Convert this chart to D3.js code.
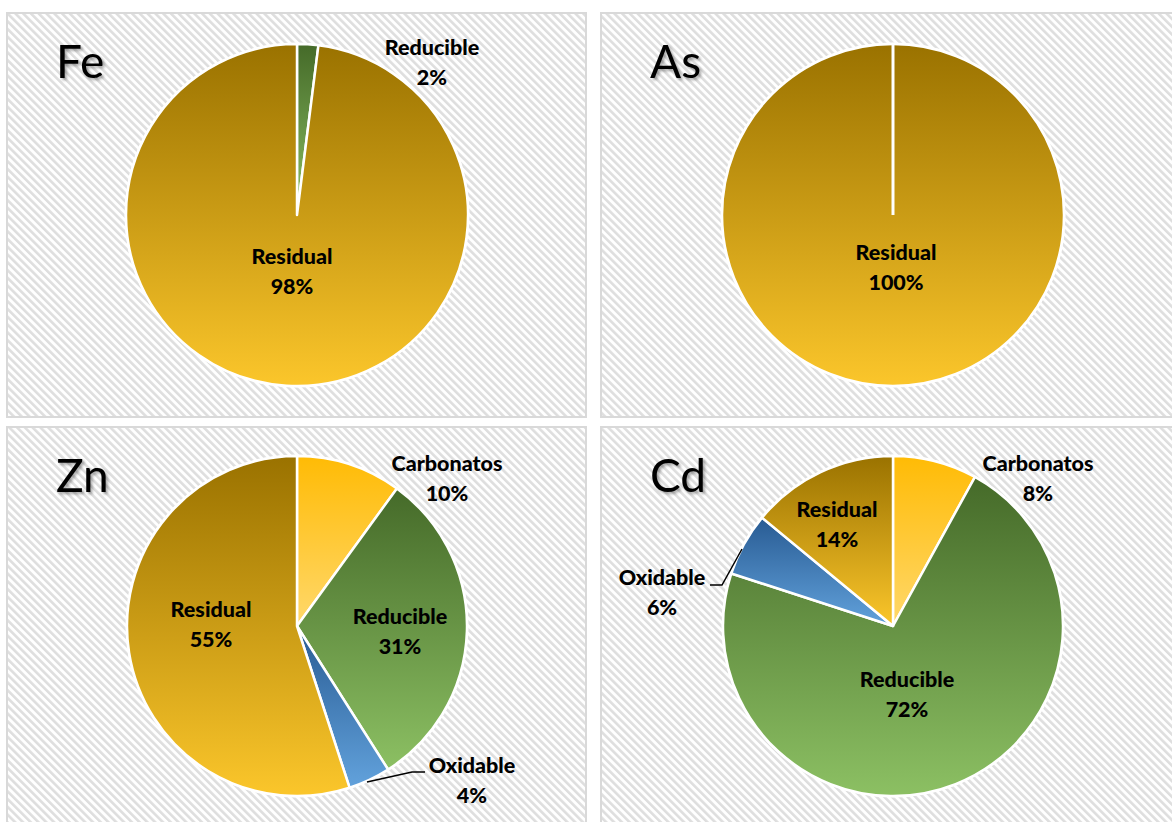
<!DOCTYPE html>
<html>
<head>
<meta charset="utf-8">
<script src="https://cdn.jsdelivr.net/npm/d3@7"></script>
<style>
  html, body { margin: 0; padding: 0; background: #ffffff; }
  svg { display: block; }
</style>
</head>
<body>
<svg id="chart" width="1172" height="822"></svg>
<script>
// Fractions in the order they are drawn (clockwise from 12 o'clock)
const fractions = ["Carbonatos", "Reducible", "Oxidable", "Residual"];
const elements = ["Fe", "As", "Zn", "Cd"];

// Percentage of each fraction per element
const feValues = [0, 2, 0, 98];
const asValues = [0, 0, 0, 100];
const znValues = [10, 31, 4, 55];
const cdValues = [8, 72, 6, 14];
const seriesValues = [feValues, asValues, znValues, cdValues];

// Colours per fraction: dark (top) to light (bottom)
const fillTop = ["#ffbb05", "#456a29", "#285b93", "#9a7200"];
const fillBottom = ["#ffd86b", "#8cc063", "#62a2dc", "#fbc62b"];

const svg = d3.select("#chart");
const defs = svg.append("defs");

// Light diagonal hatch for panel backgrounds
const pat = defs.append("pattern")
  .attr("id", "hatch").attr("patternUnits", "userSpaceOnUse")
  .attr("width", 5.5).attr("height", 5.5)
  .attr("patternTransform", "rotate(-45)");
pat.append("rect").attr("width", 5.5).attr("height", 5.5).attr("fill", "#ffffff");
pat.append("rect").attr("width", 2.6).attr("height", 5.5).attr("fill", "#dedede");

fractions.forEach((f, i) => {
  const g = defs.append("linearGradient").attr("id", "grad" + i)
    .attr("x1", 0).attr("y1", 0).attr("x2", 0).attr("y2", 1);
  g.append("stop").attr("offset", "0%").attr("stop-color", fillTop[i]);
  g.append("stop").attr("offset", "100%").attr("stop-color", fillBottom[i]);
});

const shadow = defs.append("filter").attr("id", "tshadow")
  .attr("x", "-20%").attr("y", "-20%").attr("width", "150%").attr("height", "150%");
shadow.append("feDropShadow").attr("dx", 2).attr("dy", 2)
  .attr("stdDeviation", 1.5).attr("flood-color", "#000").attr("flood-opacity", 0.35);

// Panel frames
const panels = [
  { x: 7, y: 13, w: 579, h: 404, cx: 297, cy: 215, r: 171 },
  { x: 601, y: 13, w: 580, h: 404, cx: 893, cy: 215, r: 171 },
  { x: 7, y: 427, w: 579, h: 404, cx: 297, cy: 626, r: 170 },
  { x: 601, y: 427, w: 580, h: 404, cx: 893, cy: 626, r: 170 }
];

// Data label positions: [fraction index, dx, dy from pie centre], plus optional leader line
const labelSpec = [
  [{ i: 1, x: 135, y: -160 }, { i: 3, x: -5, y: 49 }],
  [{ i: 3, x: 3, y: 45 }],
  [{ i: 0, x: 150, y: -155 }, { i: 1, x: 103, y: -2 }, { i: 3, x: -86, y: -9 },
   { i: 2, x: 175, y: 147, leader: [[70, 156], [115, 146], [128, 146]] }],
  [{ i: 0, x: 145, y: -155 }, { i: 1, x: 14, y: 61 }, { i: 3, x: -56, y: -109 },
   { i: 2, x: -231, y: -41, leader: [[-183, -41], [-171, -41], [-151, -77]] }]
];

const pie = d3.pie().sort(null).value(d => d);
const arc = d3.arc().innerRadius(0);

panels.forEach((p, k) => {
  const g = svg.append("g");
  g.append("rect").attr("x", p.x).attr("y", p.y).attr("width", p.w).attr("height", p.h)
    .attr("fill", "url(#hatch)").attr("stroke", "#d9d9d9").attr("stroke-width", 2);

  g.append("text").attr("x", p.x + 49).attr("y", p.y + 65)
    .attr("font-family", "Lato, 'Open Sans', sans-serif").attr("font-size", 46)
    .attr("fill", "#000").attr("filter", "url(#tshadow)")
    .text(elements[k]);

  const pg = g.append("g").attr("transform", `translate(${p.cx},${p.cy})`);
  // white halo around the pie
  pg.append("circle").attr("r", p.r + 1.5).attr("fill", "#ffffff");
  const arcs = pie(seriesValues[k]);
  arcs.forEach((a, i) => {
    if (a.endAngle - a.startAngle <= 0) return;
    pg.append("path")
      .attr("d", arc.outerRadius(p.r)(a))
      .attr("fill", `url(#grad${i})`)
      .attr("stroke", "#ffffff").attr("stroke-width", 2.5)
      .attr("stroke-linejoin", "round");
  });
  // slice borders where the only slice is a full circle
  arcs.filter(a => a.endAngle - a.startAngle >= 2 * Math.PI - 1e-6).forEach(a => {
    const e = d3.pointRadial(a.startAngle, p.r + 1);
    pg.append("line").attr("x1", 0).attr("y1", 0).attr("x2", e[0]).attr("y2", e[1])
      .attr("stroke", "#ffffff").attr("stroke-width", 3);
  });

  labelSpec[k].forEach(s => {
    if (s.leader) {
      pg.append("path").attr("d", d3.line()(s.leader))
        .attr("fill", "none").attr("stroke", "#000").attr("stroke-width", 1.5);
    }
    const t = pg.append("text").attr("text-anchor", "middle")
      .attr("font-family", "Lato, 'Open Sans', sans-serif").attr("font-weight", "900")
      .attr("font-size", 21.5).attr("fill", "#000");
    t.append("tspan").attr("x", s.x).attr("y", s.y).text(fractions[s.i]);
    t.append("tspan").attr("x", s.x).attr("y", s.y + 30).text(seriesValues[k][s.i] + "%");
  });
});
</script>
</body>
</html>
